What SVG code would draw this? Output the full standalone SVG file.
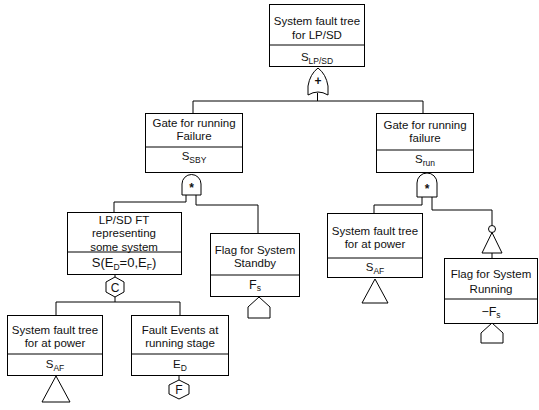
<svg xmlns="http://www.w3.org/2000/svg" width="539" height="410" viewBox="0 0 539 410">
<style>
.box{fill:#fff;stroke:#000;stroke-width:1}
.ln{fill:none;stroke:#000;stroke-width:1}
.sym{fill:#fff;stroke:#000;stroke-width:1}
text{font-family:"Liberation Sans",Arial,sans-serif;font-size:11.5px;fill:#111;text-anchor:middle}
.sub{font-size:8.5px}
.g{font-size:12px;font-weight:bold}
</style>
<rect width="539" height="410" fill="#fff"/>
<g id="connectors">
<path class="ln" d="M317.5,93 V101 M193,101 H423 M193,101 V113 M423,101 V113"/>
<path class="ln" d="M186,195 V202 H114 V212 M196,195 V205 H258 V233"/>
<path class="ln" d="M422,197 V205 H374 V213 M432,197 V210 H492 V225.5 M492,253 V258"/>
<path class="ln" d="M115,274 V277 M115,297 V302 M56,302 H180 M56,302 V315 M180,302 V315 M179,375 V380"/>
</g>
<g id="top">
<rect class="box" x="269.5" y="4.5" width="95" height="62"/>
<line class="ln" x1="269.5" y1="45" x2="364.5" y2="45"/>
<text x="317" y="25">System fault tree</text>
<text x="317" y="39">for LP/SD</text>
<text x="317" y="61">S<tspan class="sub" dy="3">LP/SD</tspan></text>
<path class="sym" d="M308,95 L308,86 Q310,74 318,68 Q326,74 328,86 L328,95 Q318,89 308,95 Z"/>
<text class="g" x="318" y="85">+</text>
</g>
<g id="gate-sby">
<rect class="box" x="145.5" y="113.5" width="97" height="59"/>
<line class="ln" x1="145.5" y1="147" x2="242.5" y2="147"/>
<text x="194" y="127">Gate for running</text>
<text x="194" y="140">Failure</text>
<text x="194" y="160">S<tspan class="sub" dy="3">SBY</tspan></text>
<path class="sym" d="M182,195 V184 A9.5,9.5 0 0 1 201,184 V195 Z"/>
<text class="g" x="191.5" y="192">*</text>
</g>
<g id="gate-run">
<rect class="box" x="376.5" y="113.5" width="97" height="59"/>
<line class="ln" x1="376.5" y1="150" x2="473.5" y2="150"/>
<text x="425" y="129">Gate for running</text>
<text x="425" y="142">failure</text>
<text x="425" y="163">S<tspan class="sub" dy="3">run</tspan></text>
<path class="sym" d="M417,197 V183 A10,10 0 0 1 437,183 V197 Z"/>
<text class="g" x="427" y="193">*</text>
</g>
<g id="lpsd-ft">
<rect class="box" x="67.5" y="212.5" width="114" height="62"/>
<line class="ln" x1="67.5" y1="252" x2="181.5" y2="252"/>
<text x="124" y="224">LP/SD FT</text>
<text x="124" y="237">representing</text>
<text x="124" y="251">some system</text>
<text x="124" y="267" style="font-size:13px">S(E<tspan class="sub" dy="3">D</tspan><tspan dy="-3">=0,E</tspan><tspan class="sub" dy="3">F</tspan><tspan dy="-3">)</tspan></text>
<path class="sym" d="M115,277 L124,282 L124,292 L115,297 L106,292 L106,282 Z"/>
<text x="115" y="292" style="font-size:12px">C</text>
</g>
<g id="flag-standby">
<rect class="box" x="210.5" y="233.5" width="89" height="63"/>
<line class="ln" x1="210.5" y1="275" x2="299.5" y2="275"/>
<text x="255" y="254">Flag for System</text>
<text x="255" y="267">Standby</text>
<text x="255" y="289" style="font-size:12.5px">F<tspan class="sub" dy="2">s</tspan></text>
<path class="sym" d="M259,297 L270,307 L270,318 L248,318 L248,307 Z"/>
</g>
<g id="sys-ft-power-right">
<rect class="box" x="327.5" y="213.5" width="95" height="64"/>
<line class="ln" x1="327.5" y1="258" x2="422.5" y2="258"/>
<text x="375" y="235">System fault tree</text>
<text x="375" y="248">for at power</text>
<text x="375" y="271">S<tspan class="sub" dy="3">AF</tspan></text>
<path class="sym" d="M375,279 L388,303 L362,303 Z"/>
</g>
<g id="not-gate">
<circle class="sym" cx="492" cy="229" r="3.5"/>
<path class="sym" d="M492,232.5 L502,253 L482,253 Z"/>
</g>
<g id="flag-running">
<rect class="box" x="444.5" y="258.5" width="93" height="65"/>
<line class="ln" x1="444.5" y1="299" x2="537.5" y2="299"/>
<text x="491" y="278">Flag for System</text>
<text x="491" y="293">Running</text>
<text x="491" y="316" style="font-size:12.5px">−F<tspan class="sub" dy="2">s</tspan></text>
<path class="sym" d="M492,323 L503,333 L503,343 L481,343 L481,333 Z"/>
</g>
<g id="sys-ft-power-left">
<rect class="box" x="7.5" y="315.5" width="95" height="60"/>
<line class="ln" x1="7.5" y1="354" x2="102.5" y2="354"/>
<text x="55" y="334">System fault tree</text>
<text x="55" y="347">for at power</text>
<text x="55" y="368">S<tspan class="sub" dy="3">AF</tspan></text>
<path class="sym" d="M56,376 L70,402 L42,402 Z"/>
</g>
<g id="fault-events">
<rect class="box" x="131.5" y="315.5" width="97" height="60"/>
<line class="ln" x1="131.5" y1="354" x2="228.5" y2="354"/>
<text x="180" y="334">Fault Events at</text>
<text x="180" y="347">running stage</text>
<text x="180" y="368">E<tspan class="sub" dy="3">D</tspan></text>
<path class="sym" d="M179,380 L189,385 L189,394 L179,399 L169,394 L169,385 Z"/>
<text x="179" y="394" style="font-size:12px">F</text>
</g>
</svg>
